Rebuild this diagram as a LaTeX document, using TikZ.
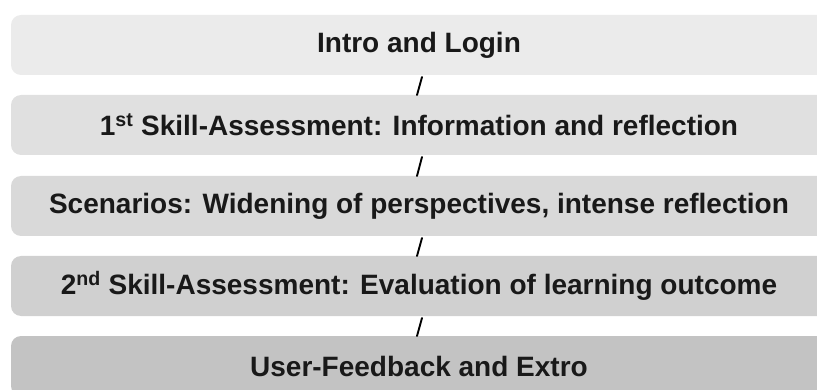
\documentclass[tikz,border=0pt]{standalone}
\usepackage{fontspec}
\setmainfont{Liberation Sans}
\usetikzlibrary{positioning}
\definecolor{phaseA}{gray}{0.922}
\definecolor{phaseB}{gray}{0.880}
\definecolor{phaseC}{gray}{0.850}
\definecolor{phaseD}{gray}{0.815}
\definecolor{phaseE}{gray}{0.765}
\begin{document}
\begin{tikzpicture}[font=\fontsize{28}{34}\selectfont\bfseries, line join=round, line cap=round,
	phase/.style={rounded corners=10pt, minimum width=816pt, minimum height=60pt, inner sep=0pt, outer sep=0pt, text=black!90},
	link/.style={line width=1.9pt, black}]
	\def\W{817pt} \def\H{390pt}
	\useasboundingbox (0,0) rectangle (\W,-\H);
	\clip (0,0) rectangle (\W,-\H);
	\node[phase, fill=phaseA] (intro) at (419pt,-45pt) {Intro and Login};
	\node[phase, fill=phaseB, below=20pt of intro] (skillone) {1\textsuperscript{st} Skill-Assessment: Information and reflection};
	\node[phase, fill=phaseC, below=21pt of skillone] (scen) {Scenarios: Widening of perspectives, intense reflection};
	\node[phase, fill=phaseD, below=20pt of scen] (skilltwo) {2\textsuperscript{nd} Skill-Assessment: Evaluation of learning outcome};
	\node[phase, fill=phaseE, below=20pt of skilltwo] (extro) {User-Feedback and Extro};
	\draw[link] ([xshift=3pt,yshift=-2pt]intro.south) -- ([xshift=-2pt]skillone.north)
		([xshift=3pt,yshift=-2pt]skillone.south) -- ([xshift=-2pt]scen.north)
		([xshift=3pt,yshift=-2pt]scen.south) -- ([xshift=-2pt]skilltwo.north)
		([xshift=3pt,yshift=-2pt]skilltwo.south) -- ([xshift=-2pt]extro.north);
\end{tikzpicture}
\end{document}
